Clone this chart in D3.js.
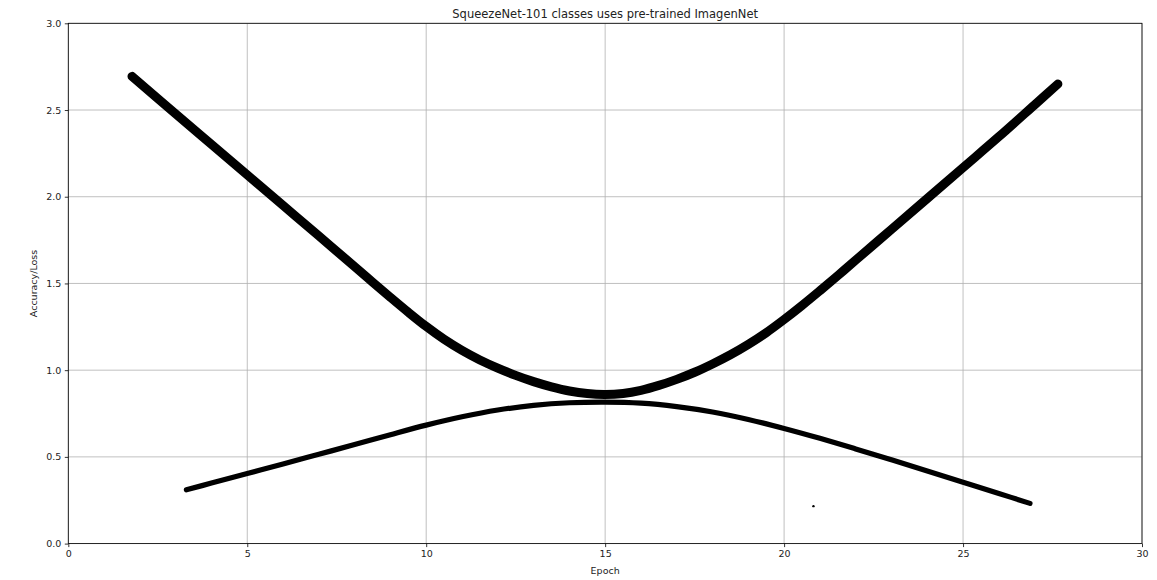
<!DOCTYPE html>
<html>
<head>
<meta charset="utf-8">
<script src="https://cdn.jsdelivr.net/npm/d3@7"></script>
<style>
  html, body { margin: 0; padding: 0; background: #fff; }
  svg { display: block; font-family: "DejaVu Sans", sans-serif; }
</style>
</head>
<body>
<svg id="chart" width="1157" height="580"></svg>
<script>
const title = "SqueezeNet-101 classes uses pre-trained ImagenNet";
const xLabel = "Epoch";
const yLabel = "Accuracy/Loss";
const xTicks = [0, 5, 10, 15, 20, 25, 30];
const yTicks = [0.0, 0.5, 1.0, 1.5, 2.0, 2.5, 3.0];

// Upper (thick) curve
const upperX = [1.78, 3, 4, 5, 6, 7, 8, 8.5, 9, 9.5, 10, 10.5, 11, 11.5, 12, 12.5, 13, 13.5, 14, 14.5, 15,
                15.5, 16, 16.5, 17, 17.5, 18, 18.5, 19, 19.5, 20, 20.5, 21, 21.5, 22, 23, 24, 25, 26, 27, 27.65];
const upperY = [2.694, 2.478, 2.302, 2.126, 1.950, 1.774, 1.597, 1.508, 1.420, 1.334, 1.252, 1.178, 1.114, 1.059, 1.012, 0.970, 0.934, 0.904, 0.880, 0.865, 0.860,
                0.866, 0.884, 0.912, 0.947, 0.988, 1.036, 1.089, 1.149, 1.216, 1.292, 1.373, 1.458, 1.545, 1.634, 1.812, 1.990, 2.168, 2.346, 2.530, 2.650];

// Lower (thinner) curve
const lowerX = [3.3, 4, 5, 6, 7, 8, 9, 10, 11, 12, 13, 14, 15, 16, 17, 18, 19, 20, 21, 22, 23, 24, 25, 26, 26.87];
const lowerY = [0.31, 0.349, 0.404, 0.459, 0.515, 0.571, 0.628, 0.683, 0.731, 0.770, 0.797, 0.812, 0.816, 0.810, 0.790, 0.759, 0.716, 0.664, 0.607, 0.546, 0.483, 0.419, 0.354, 0.289, 0.232];

// Stray tiny mark
const dotX = [20.82];
const dotY = [0.216];

const svg = d3.select("#chart");
const margin = { left: 68.3, right: 1157 - 1142, top: 23.3, bottom: 580 - 543.6 };
const W = 1157, H = 580;

const x = d3.scaleLinear().domain([0, 30]).range([margin.left, W - margin.right]);
const y = d3.scaleLinear().domain([0, 3]).range([H - margin.bottom, margin.top]);

// grid
const grid = svg.append("g");
grid.selectAll("line.vx").data(xTicks).join("line")
  .attr("x1", d => x(d)).attr("x2", d => x(d))
  .attr("y1", y(0)).attr("y2", y(3))
  .attr("stroke", "#b0b0b0").attr("stroke-width", 0.8);
grid.selectAll("line.hy").data(yTicks).join("line")
  .attr("y1", d => y(d)).attr("y2", d => y(d))
  .attr("x1", x(0)).attr("x2", x(30))
  .attr("stroke", "#b0b0b0").attr("stroke-width", 0.8);

// curves
const lineU = d3.line().x(d => x(d[0])).y(d => y(d[1])).curve(d3.curveCatmullRom.alpha(0.5));
svg.append("path")
  .attr("d", lineU(upperX.map((v, i) => [v, upperY[i]])))
  .attr("fill", "none").attr("stroke", "#000").attr("stroke-width", 9)
  .attr("stroke-linecap", "round").attr("stroke-linejoin", "round");
svg.append("path")
  .attr("d", lineU(lowerX.map((v, i) => [v, lowerY[i]])))
  .attr("fill", "none").attr("stroke", "#000").attr("stroke-width", 5.2)
  .attr("stroke-linecap", "round").attr("stroke-linejoin", "round");
svg.selectAll("circle.dot").data(dotX).join("circle")
  .attr("cx", (d, i) => x(d)).attr("cy", (d, i) => y(dotY[i]))
  .attr("r", 1.2).attr("fill", "#000");

// axes
const xAxis = d3.axisBottom(x).tickValues(xTicks).tickFormat(d3.format("d")).tickSizeOuter(0).tickSize(3.5).tickPadding(3.5);
const yAxis = d3.axisLeft(y).tickValues(yTicks).tickFormat(d3.format(".1f")).tickSizeOuter(0).tickSize(3.5).tickPadding(3.5);
const gx = svg.append("g").attr("transform", `translate(0,${y(0)})`).call(xAxis);
const gy = svg.append("g").attr("transform", `translate(${x(0)},0)`).call(yAxis);
[gx, gy].forEach(g => {
  g.select(".domain").remove();
  g.selectAll(".tick line").attr("stroke", "#000").attr("stroke-width", 0.8);
  g.selectAll(".tick text").attr("fill", "#222").style("font-size", "9.5px").style("font-family", "DejaVu Sans");
});

// frame
svg.append("rect")
  .attr("x", x(0)).attr("y", y(3))
  .attr("width", x(30) - x(0)).attr("height", y(0) - y(3))
  .attr("fill", "none").attr("stroke", "#000").attr("stroke-width", 0.8);

// title & labels
svg.append("text").attr("x", (x(0) + x(30)) / 2).attr("y", 17.5)
  .attr("text-anchor", "middle").style("font-size", "11.5px").attr("fill", "#222").text(title);
svg.append("text").attr("x", (x(0) + x(30)) / 2).attr("y", 574)
  .attr("text-anchor", "middle").style("font-size", "9.5px").attr("fill", "#222").text(xLabel);
svg.append("text").attr("transform", `translate(36.5,${(y(0) + y(3)) / 2}) rotate(-90)`)
  .attr("text-anchor", "middle").style("font-size", "9.5px").attr("fill", "#222").text(yLabel);
</script>
</body>
</html>
